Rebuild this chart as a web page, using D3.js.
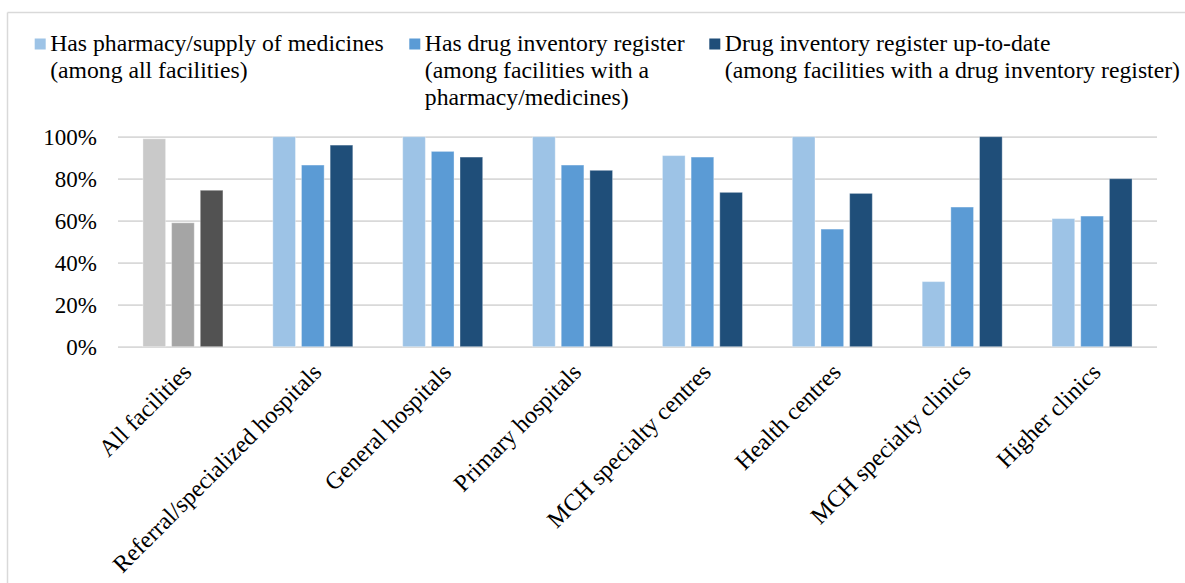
<!DOCTYPE html>
<html>
<head>
<meta charset="utf-8">
<script src="https://cdn.jsdelivr.net/npm/d3@7"></script>
<style>
  html, body { margin: 0; padding: 0; background: #fff; }
  svg { display: block; }
  text { font-family: "Liberation Serif", "Times New Roman", serif; fill: #000; }
</style>
</head>
<body>
<svg id="chart" width="1185" height="583"></svg>
<script>
// Facility types along the x axis
const categories = [
  "All facilities",
  "Referral/specialized hospitals",
  "General hospitals",
  "Primary hospitals",
  "MCH specialty centres",
  "Health centres",
  "MCH specialty clinics",
  "Higher clinics"
];

// Percentages per series
const hasPharmacy   = [99, 100, 100, 100, 91, 100, 31, 61];
const hasRegister   = [59, 86.5, 93, 86.5, 90.3, 56, 66.5, 62.2];
const registerUpToDate = [74.5, 96, 90.3, 84, 73.5, 73, 100, 80];

// Legend labels (one array of lines per series)
const seriesLabels = [
  ["Has pharmacy/supply of medicines", "(among all facilities)"],
  ["Has drug inventory register", "(among facilities with a", "pharmacy/medicines)"],
  ["Drug inventory register up-to-date", "(among facilities with a drug inventory register)"]
];

const yTicks = [0, 20, 40, 60, 80, 100];

// Blue palette for facility types; grey palette for the "All facilities" group
const blues = ["#9DC3E6", "#5B9BD5", "#1F4E79"];
const greys = ["#C9C9C9", "#A5A5A5", "#525252"];

const series = [hasPharmacy, hasRegister, registerUpToDate];

const svg = d3.select("#chart");
const W = 1185, H = 583;
const plot = { left: 118, right: 1157, top: 136.7, bottom: 346.7 };
const fontFamily = '"Liberation Serif", "Times New Roman", serif';

// Outer frame (left and top edges visible)
svg.append("line").attr("x1", 7.5).attr("x2", 7.5).attr("y1", 12.5).attr("y2", H)
  .attr("stroke", "#D9D9D9").attr("stroke-width", 1.5);
svg.append("line").attr("x1", 7.5).attr("x2", W).attr("y1", 12.5).attr("y2", 12.5)
  .attr("stroke", "#D9D9D9").attr("stroke-width", 1.5);

const x0 = d3.scaleBand().domain(categories).range([plot.left, plot.right])
  .paddingInner(0).paddingOuter(0);
const x1 = d3.scaleBand().domain(d3.range(series.length)).range([-40, 40])
  .paddingInner(0.209).paddingOuter(0);
const y = d3.scaleLinear().domain([0, 100]).range([plot.bottom, plot.top]);

// Horizontal gridlines with percentage labels
const yAxis = d3.axisLeft(y).tickValues(yTicks).tickFormat(d => d + "%")
  .tickSize(-(plot.right - plot.left)).tickPadding(21);
const yG = svg.append("g").attr("transform", `translate(${plot.left},0)`).call(yAxis);
yG.select(".domain").remove();
yG.selectAll(".tick line").attr("stroke", "#D9D9D9").attr("stroke-width", 1.8);
yG.selectAll(".tick text")
  .attr("font-size", 23)
  .attr("font-family", fontFamily)
  .attr("fill", "#000");

// Bars
const rows = categories.map((c, i) => ({ cat: c, i, vals: series.map(s => s[i]) }));
const groups = svg.append("g").selectAll("g").data(rows).join("g")
  .attr("transform", d => `translate(${x0(d.cat) + x0.bandwidth() / 2},0)`);
groups.selectAll("rect")
  .data(d => d.vals.map((v, k) => ({ v, k, grey: d.i === 0 })))
  .join("rect")
  .attr("x", d => x1(d.k))
  .attr("width", x1.bandwidth())
  .attr("y", d => y(d.v))
  .attr("height", d => y(0) - y(d.v))
  .attr("fill", d => (d.grey ? greys : blues)[d.k])
  .attr("stroke", "#ffffff").attr("stroke-opacity", 0.35).attr("stroke-width", 1);

// Category labels rotated 45 degrees
const xAxis = d3.axisBottom(x0).tickSize(0).tickPadding(0);
const xG = svg.append("g").attr("transform", `translate(0,${plot.bottom})`).call(xAxis);
xG.select(".domain").remove();
xG.selectAll(".tick text")
  .attr("font-size", 24)
  .attr("font-family", fontFamily)
  .attr("fill", "#000")
  .attr("text-anchor", "end")
  .attr("dy", "0.35em")
  .attr("transform", "translate(4,21) rotate(-45)");

// Legend
const legendX = [34.7, 409.3, 709.3];
const legend = svg.append("g").selectAll("g").data(seriesLabels).join("g")
  .attr("transform", (d, k) => `translate(${legendX[k]},0)`);
legend.append("rect")
  .attr("x", 0).attr("y", 38.5).attr("width", 11).attr("height", 11)
  .attr("fill", (d, k) => blues[k]);
legend.append("text")
  .attr("font-size", 23.7)
  .selectAll("tspan").data(d => d).join("tspan")
  .attr("x", 15.5)
  .attr("y", (d, j) => 50.5 + j * 27)
  .text(d => d);
</script>
</body>
</html>
